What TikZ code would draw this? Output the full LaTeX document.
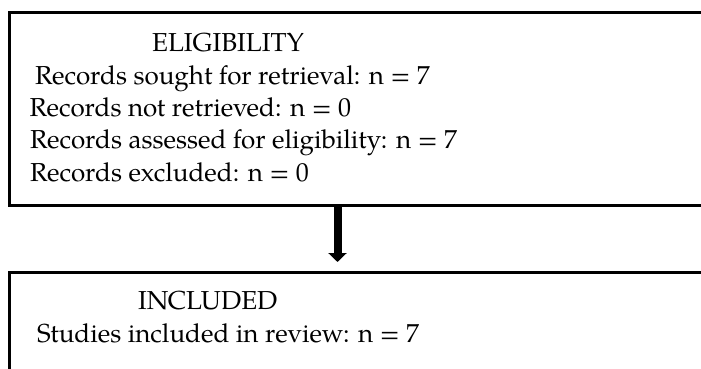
\documentclass[tikz,border=0pt]{standalone}
\usepackage{fontspec}
\setmainfont{TeX Gyre Pagella}
\usetikzlibrary{arrows.meta}
\begin{document}
\begin{tikzpicture}[x=1pt,y=1pt,
  boxframe/.style={draw=black, line width=2.6pt, rectangle, inner sep=0pt, anchor=north west},
  txt/.style={anchor=base west, inner sep=0pt, font=\fontsize{26}{30}\selectfont},
  bigarrow/.style={line width=8pt, -{Triangle[width=18pt,length=9pt]}}]
\useasboundingbox (0,0) rectangle (701,368);
\clip (0,0) rectangle (701,368);
\node[boxframe, minimum width=760pt, minimum height=193pt] (top) at (8,357) {};
\node[boxframe, minimum width=760pt, minimum height=140pt] (bot) at (8,97) {};
\node[txt] (t0) at (152,317) {ELIGIBILITY};
\node[txt] (t1) at (35,283.7) {Records sought for retrieval: n = 7};
\node[txt] (t2) at (29.5,251.3) {Records not retrieved: n = 0};
\node[txt] (t3) at (30,220) {Records assessed for eligibility: n = 7};
\node[txt] (t4) at (30,186.3) {Records excluded: n = 0};
\node[txt] (b0) at (138,59) {INCLUDED};
\node[txt] (b1) at (37,26) {Studies included in review: n = 7};
\coordinate (ax) at (337.5,0);
\draw[bigarrow, shorten >=9pt] (top.south -| ax) -- (bot.north -| ax);
\end{tikzpicture}
\end{document}
